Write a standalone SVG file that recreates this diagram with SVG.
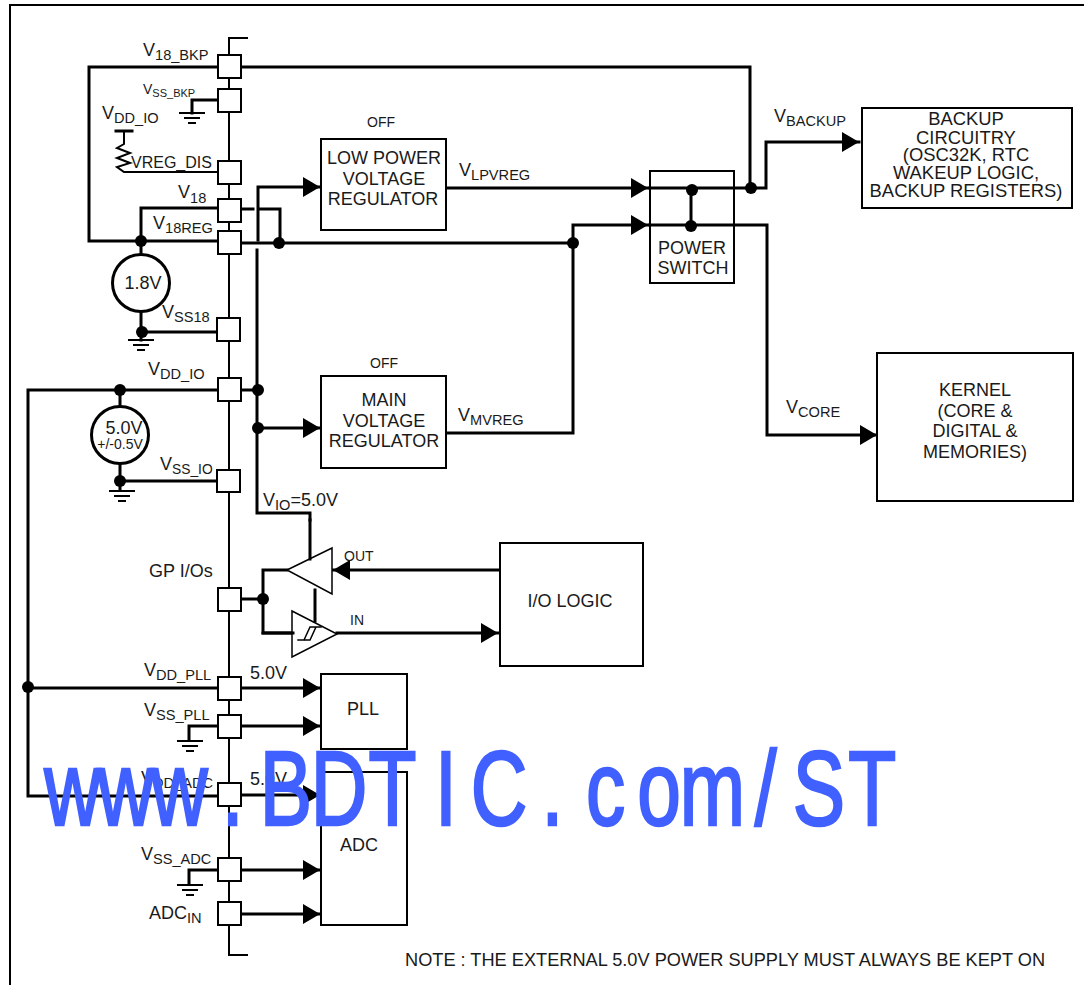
<svg xmlns="http://www.w3.org/2000/svg" width="1084" height="985" viewBox="0 0 1084 985">
<style>
text{font-family:"Liberation Sans",Arial,sans-serif;fill:#1a1a1a;font-size:18px}
.s{font-size:14px}
.u{font-size:14.6px}
.m{text-anchor:middle}
.n text{transform:translateY(1px)}
.w,.w2,.t{fill:none;stroke:#000;stroke-linecap:square}
.w{stroke-width:3}
.w2{stroke-width:2}
.t{stroke-width:1.5}
.box{fill:#fff;stroke:#000;stroke-width:2}
.pad{fill:#fff;stroke:#000;stroke-width:2}
.d{fill:#000}
.mark{font-size:106px;fill:#4060ff;stroke:#4060ff;stroke-width:2.5;text-anchor:middle}
</style>
<defs>
<marker id="a" markerUnits="userSpaceOnUse" markerWidth="18" markerHeight="20" refX="17" refY="10" orient="auto"><path d="M0 0L17 10L0 20Z" fill="#000"/></marker>
<g id="gnd"><path d="M-13 0H13M-8 5H8M-4 10H4" stroke="#000" stroke-width="2" fill="none"/></g>
</defs>
<path class="w2" d="M10 985V5H1084"/>
<g id="connectors">
<path class="w2" d="M247 38H229V955H247"/>
<path class="w" d="M218 67H89V241H218"/>
<path class="w" d="M241 67H750V188"/>
<path class="w" d="M218 100H192V113"/>
<path class="w2" d="M124 132V144L117 148L130 153L117 158L130 163L117 167L124 172H218"/>
<path class="w" d="M116 131H132"/>
<path class="w" d="M218 208H141V241"/>
<path class="w" d="M241 209H253M260 209H280V243"/>
<path class="w" d="M241 243H573"/>
<path class="w" d="M258 240V187H320" marker-end="url(#a)"/>
<path class="w" d="M141 241V254M141 312V332H217M141 332V340"/>
<path class="w" d="M218 390H28V796H218"/>
<path class="w" d="M120 390V406M120 464V481H217M120 481V490"/>
<path class="w" d="M241 390H257M257 250V513H310V520"/>
<path class="w" d="M257 428H320" marker-end="url(#a)"/>
<path class="w" d="M448 188H648" marker-end="url(#a)"/>
<path class="w" d="M448 433H573V225H648" marker-end="url(#a)"/>
<path class="w" d="M650 188H766V142H859" marker-end="url(#a)"/>
<path class="w" d="M650 225H767V435H877" marker-end="url(#a)"/>
<path class="w" d="M691 188V225"/>
<path class="w" d="M499 570H333" marker-end="url(#a)"/>
<path class="w" d="M287 570H263V633H293"/>
<path class="w" d="M241 599H263"/>
<path class="w" d="M337 633H498" marker-end="url(#a)"/>
<path d="M287 570L332 548V594ZM292 611L337 634L292 657Z" fill="#fff" stroke="#000" stroke-width="1.5"/>
<path class="w" d="M263 633H293M310 520V559M315 590V621"/>
<path class="t" d="M298 640H310L316 627H321M304 640L310 627H316"/>
<path class="w" d="M28 688H218"/>
<path class="w" d="M241 688H320" marker-end="url(#a)"/>
<path class="w" d="M218 726H189V740"/>
<path class="w" d="M241 726H320" marker-end="url(#a)"/>
<path class="w" d="M241 795H320" marker-end="url(#a)"/>
<path class="w" d="M218 870H189V884"/>
<path class="w" d="M241 870H320" marker-end="url(#a)"/>
<path class="w" d="M241 914H320" marker-end="url(#a)"/>
<circle class="d" cx="141" cy="241" r="6"/><circle class="d" cx="279" cy="243" r="6"/><circle class="d" cx="142" cy="332" r="6"/>
<circle class="d" cx="120" cy="390" r="6"/><circle class="d" cx="258" cy="390" r="6"/><circle class="d" cx="258" cy="428" r="6"/><circle class="d" cx="120" cy="481" r="6"/>
<circle class="d" cx="263" cy="599" r="6"/><circle class="d" cx="28" cy="687" r="6"/><circle class="d" cx="573" cy="243" r="6"/><circle class="d" cx="751" cy="188" r="6"/>
<use href="#gnd" x="192" y="113"/><use href="#gnd" x="141" y="340"/><use href="#gnd" x="122" y="491"/><use href="#gnd" x="190" y="741"/><use href="#gnd" x="190" y="885"/>
</g>
<g id="pads">
<rect class="pad" x="218" y="55" width="23" height="23"/><rect class="pad" x="218" y="89" width="23" height="23"/><rect class="pad" x="218" y="161" width="23" height="23"/><rect class="pad" x="218" y="199" width="23" height="23"/><rect class="pad" x="218" y="231" width="23" height="23"/><rect class="pad" x="217" y="318" width="23" height="23"/><rect class="pad" x="218" y="378" width="23" height="23"/><rect class="pad" x="217" y="470" width="23" height="22"/><rect class="pad" x="218" y="588" width="23" height="23"/><rect class="pad" x="218" y="677" width="23" height="23"/><rect class="pad" x="218" y="715" width="23" height="23"/><rect class="pad" x="218" y="783" width="23" height="23"/><rect class="pad" x="218" y="858" width="23" height="23"/><rect class="pad" x="218" y="902" width="23" height="23"/>
</g>
<g id="src18"><circle cx="141" cy="283" r="28.500" fill="#fff" stroke="#000" stroke-width="3"/><text x="143" y="289" class="m">1.8V</text></g>
<g id="src50"><circle cx="120" cy="435" r="28.500" fill="#fff" stroke="#000" stroke-width="3"/><text x="124" y="434" class="m">5.0V</text><text x="120" y="449" class="m s">+/-0.5V</text></g>
<g id="lpreg" class="n"><rect class="box" x="321" y="139" width="125" height="91"/><text x="384" y="163" class="m">LOW POWER</text><text x="384" y="184" class="m">VOLTAGE</text><text x="383" y="204" class="m">REGULATOR</text></g>
<g id="mainreg" class="n"><rect class="box" x="321" y="376" width="125" height="92"/><text x="384" y="405" class="m">MAIN</text><text x="384" y="426" class="m">VOLTAGE</text><text x="384" y="446" class="m">REGULATOR</text></g>
<g id="pwr" class="n"><rect x="650" y="171" width="84" height="112" fill="none" stroke="#000" stroke-width="2"/><text x="692" y="253" class="m">POWER</text><text x="693" y="273" class="m">SWITCH</text>
<circle class="d" cx="692" cy="190" r="6"/><circle class="d" cx="691" cy="226" r="6"/></g>
<g id="backup" class="n" style="font-size:18.4px"><rect class="box" x="862" y="108" width="210" height="100"/><text x="966" y="124" class="m" style="font-size:18.4px">BACKUP</text><text x="966" y="143" class="m" style="font-size:18.4px">CIRCUITRY</text><text x="966" y="160" class="m" style="font-size:18.4px">(OSC32K, RTC</text><text x="966" y="178" class="m" style="font-size:18.4px">WAKEUP LOGIC,</text><text x="966" y="196" class="m" style="font-size:18.4px">BACKUP REGISTERS)</text></g>
<g id="kernel" class="n"><rect class="box" x="877" y="353" width="196" height="148"/><text x="975" y="395" class="m">KERNEL</text><text x="975" y="416" class="m">(CORE &amp;</text><text x="975" y="436" class="m">DIGITAL &amp;</text><text x="975" y="457" class="m">MEMORIES)</text></g>
<g id="iologic" class="n"><rect class="box" x="500" y="543" width="143" height="123"/><text x="570" y="606" class="m">I/O LOGIC</text></g>
<g id="pll" class="n"><rect class="box" x="321" y="674" width="86" height="75"/><text x="363" y="714" class="m">PLL</text></g>
<g id="adc" class="n"><rect class="box" x="321" y="772" width="86" height="153"/><text x="359" y="850" class="m">ADC</text></g>
<g id="labels">
<text x="143" y="56">V<tspan class="u" font-size="15" dy="4">18_BKP</tspan></text>
<text x="143" y="94" style="font-size:14px">V<tspan style="font-size:11px" dy="3">SS_BKP</tspan></text>
<text x="102" y="119">V<tspan class="u" dy="4">DD_IO</tspan></text>
<text x="131" y="168" style="font-size:16px">VREG_DIS</text>
<text x="178" y="198">V<tspan class="u" dy="5">18</tspan></text>
<text x="153" y="229">V<tspan class="u" dy="4">18REG</tspan></text>
<text x="162" y="318">V<tspan class="u" dy="4">SS18</tspan></text>
<text x="148" y="375">V<tspan class="u" dy="4">DD_IO</tspan></text>
<text x="160" y="470">V<tspan style="font-size:13.800px" dy="4">SS_IO</tspan></text>
<text x="149" y="577">GP I/Os</text>
<text x="263" y="506">V<tspan class="u" dy="4">IO</tspan><tspan dy="-4">=5.0V</tspan></text>
<text x="144" y="676">V<tspan class="u" dy="4">DD_PLL</tspan></text>
<text x="144" y="716">V<tspan class="u" dy="4">SS_PLL</tspan></text>
<text x="141" y="784">V<tspan class="u" dy="4">DD_ADC</tspan></text>
<text x="141" y="860">V<tspan class="u" dy="4">SS_ADC</tspan></text>
<text x="149" y="919">ADC<tspan class="u" dy="4">IN</tspan></text>
<text x="250" y="679">5.0V</text><text x="250" y="785">5.0V</text>
<text x="367" y="127" class="s">OFF</text><text x="370" y="368" class="s">OFF</text>
<text x="459" y="176">V<tspan class="u" dy="4">LPVREG</tspan></text>
<text x="458" y="421">V<tspan class="u" dy="4">MVREG</tspan></text>
<text x="774" y="122">V<tspan class="u" dy="4">BACKUP</tspan></text>
<text x="786" y="413">V<tspan class="u" dy="4">CORE</tspan></text>
<text x="344" y="561" class="s">OUT</text><text x="350" y="625" class="s">IN</text>
<text x="405" y="966" style="font-size:18.200px">NOTE : THE EXTERNAL 5.0V POWER SUPPLY MUST ALWAYS BE KEPT ON</text>
</g>
<text class="mark" transform="translate(0 825) scale(.74 1)" x="98.2 170.2 242.2 314.3 386.3 458.3 530.4 602.4 674.4 746.5 818.5 890.5 962.6 1034.6 1106.6 1178.6" y="0">www.BDTIC.com/ST</text>
</svg>
